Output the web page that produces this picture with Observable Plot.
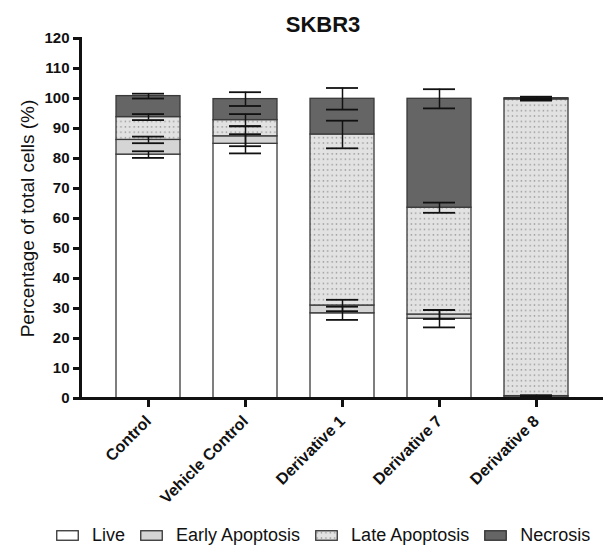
<!DOCTYPE html>
<html><head><meta charset="utf-8">
<script src="https://cdn.jsdelivr.net/npm/d3@7"></script>
<script src="https://cdn.jsdelivr.net/npm/@observablehq/plot@0.6"></script>
<style>
body{margin:0;background:#fff;font-family:"Liberation Sans",Arial,sans-serif;}
#legend{display:flex;align-items:center;height:27px;font-size:18px;color:#111;padding-left:56px;white-space:nowrap;}
#legend .sw{display:block;margin-right:13px;}
#legend .lb{margin-right:15px;}
</style></head><body><div id="chart"></div><div id="legend"></div>
<script>
const categories = ["Control","Vehicle Control","Derivative 1","Derivative 7","Derivative 8"];
const series = ["Live","Early Apoptosis","Late Apoptosis","Necrosis"];
const live = [81.3,84.9,28.4,26.6,0.3];
const early = [4.9,2.5,2.6,1.4,0.5];
const late = [7.6,5.4,57.0,35.6,98.9];
const necrosis = [7.0,7.0,11.9,36.3,0.4];
const liveSD = [1.1,3.2,2.2,2.9,0.4];
const earlySD = [1.1,3.3,1.9,1.5,0.3];
const lateSD = [1.0,2.0,4.6,1.7,0.4];
const necrosisSD = [0.8,2.3,3.6,3.2,0.5];
const yTicks = d3.range(0,121,10);
const title = "SKBR3";
const yLabel = "Percentage of total cells (%)";

const fills = ["#ffffff","#d5d5d5","url(#dots)","#656565"];
const values = [live, early, late, necrosis];
const sds = [liveSD, earlySD, lateSD, necrosisSD];

const rows = [];
const errs = [];
categories.forEach((c, i) => {
  let cum = 0;
  series.forEach((s, j) => {
    rows.push({category: c, series: s, value: values[j][i]});
    cum += values[j][i];
    errs.push({category: c, series: s, top: cum, sd: sds[j][i]});
  });
});

const svg = Plot.plot({
  width: 614,
  height: 522,
  marginLeft: 80,
  marginRight: 11,
  marginTop: 38,
  marginBottom: 124,
  style: {fontFamily: "'Liberation Sans', Arial, sans-serif", fontSize: "15px", color: "#111", background: "#fff"},
  x: {domain: categories, padding: 0.345, label: null},
  y: {domain: [0, 120], label: null},
  color: {domain: series, range: fills},
  marks: [
    Plot.barY(rows, {x: "category", y: "value", fill: "series", stroke: "#3a3a3a", strokeWidth: 1.3}),
    Plot.ruleX(errs, {x: "category", y1: d => d.top - d.sd, y2: d => d.top + d.sd, stroke: "#111", strokeWidth: 1.5}),
    Plot.tickY(errs, {x: "category", y: d => d.top - d.sd, insetLeft: 16, insetRight: 16, stroke: "#111", strokeWidth: 1.8}),
    Plot.tickY(errs, {x: "category", y: d => d.top + d.sd, insetLeft: 16, insetRight: 16, stroke: "#111", strokeWidth: 1.8}),
    Plot.axisY({ticks: yTicks, tickSize: 7, strokeWidth: 3, tickPadding: 4, fontSize: 15, fontWeight: "bold", label: null}),
    Plot.axisX({tickRotate: -45, tickSize: 9, strokeWidth: 3, tickPadding: 11, fontSize: 16, fontWeight: "bold", label: null}),
    Plot.frame({anchor: "left", strokeWidth: 3, stroke: "#111"}),
    Plot.ruleY([0], {strokeWidth: 3, stroke: "#111"}),
    Plot.text([title], {text: d => d, frameAnchor: "top", dx: -19, dy: -22, fontSize: 22, fontWeight: "bold", fill: "#111"}),
    Plot.text([yLabel], {text: d => d, frameAnchor: "left", textAnchor: "middle", rotate: -90, dx: -53, fontSize: 19, fill: "#111"})
  ]
});

const defs = d3.select(svg).insert("defs", ":first-child");
const pat = defs.append("pattern").attr("id", "dots").attr("patternUnits", "userSpaceOnUse").attr("width", 4.4).attr("height", 5.4);
pat.append("rect").attr("width", 4.4).attr("height", 5.4).attr("fill", "#e2e2e2");
pat.append("rect").attr("x", 1.5).attr("y", 2).attr("width", 1.3).attr("height", 1.3).attr("fill", "#8a8a8a");

document.getElementById("chart").appendChild(svg);

const legend = d3.select("#legend");
series.forEach((s, j) => {
  const sw = legend.append("svg").attr("class", "sw").attr("width", 23).attr("height", 11);
  sw.append("rect").attr("x", 0.75).attr("y", 0.75).attr("width", 21.5).attr("height", 9.5)
    .attr("fill", fills[j]).attr("stroke", "#333").attr("stroke-width", 1.3);
  legend.append("span").attr("class", "lb").text(s);
});
</script></body></html>
